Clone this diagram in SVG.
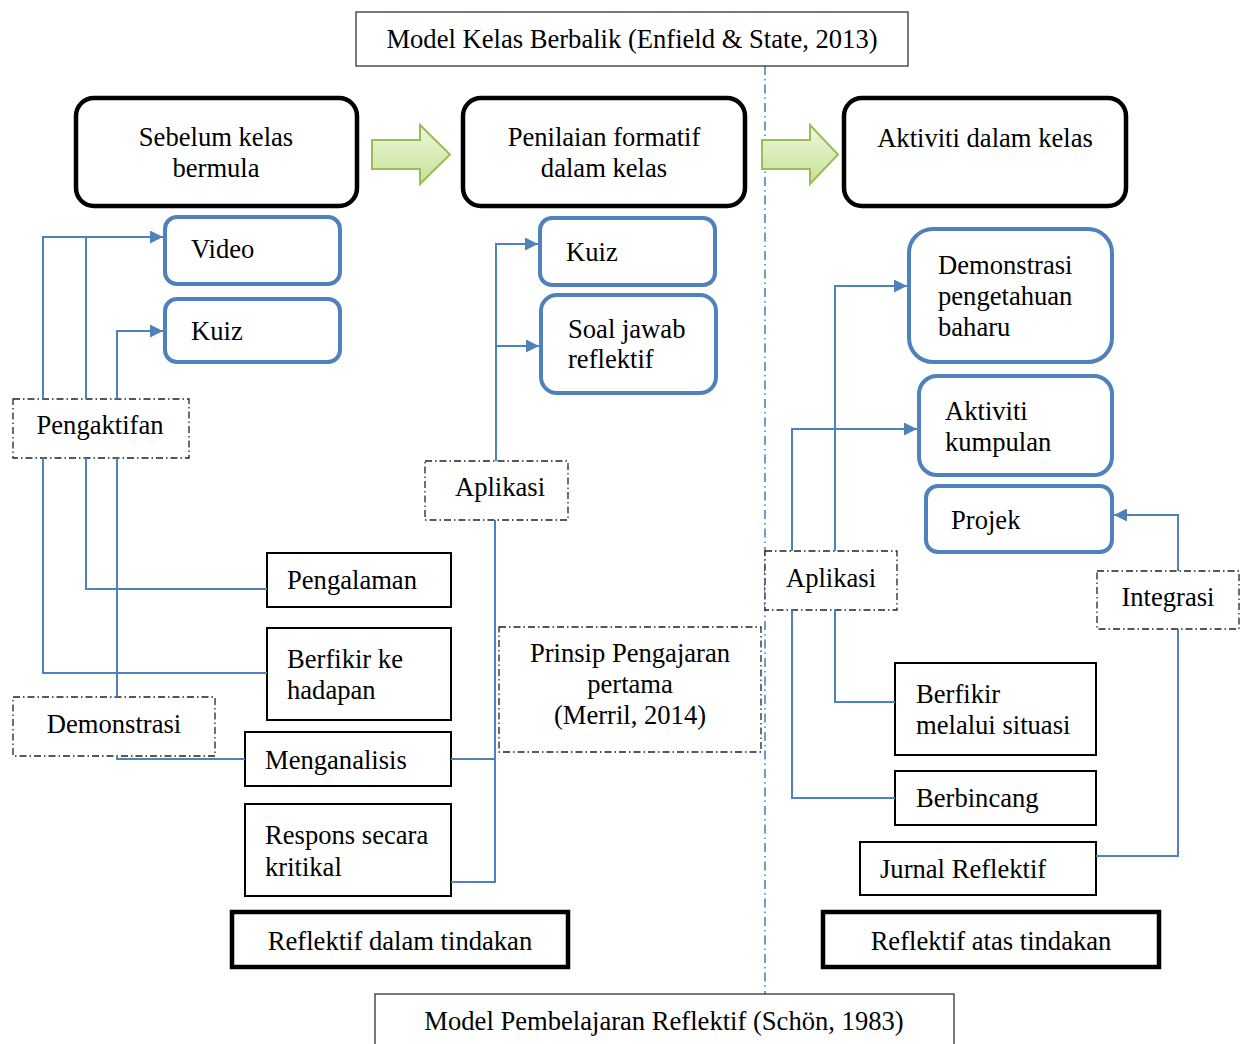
<svg xmlns="http://www.w3.org/2000/svg" width="1248" height="1044" viewBox="0 0 1248 1044">
<style>
text{font-family:"Liberation Serif","Times New Roman",serif;font-size:26.6px;fill:#000}
.c{text-anchor:middle}
.big{fill:#fff;stroke:#000;stroke-width:4.5}
.blue{fill:#fff;stroke:#4f81bd;stroke-width:4}
.box{fill:#fff;stroke:#000;stroke-width:2}
.thick{fill:#fff;stroke:#000;stroke-width:4.5}
.dd{fill:#fff;stroke:#222;stroke-width:1.3;stroke-dasharray:7 3 1.5 3}
.plain{fill:#fff;stroke:#333;stroke-width:1.3}
.con{fill:none;stroke:#4f81bd;stroke-width:2}
.ga{fill:url(#gg);stroke:#9bbb59;stroke-width:2}
</style>
<defs>
<linearGradient id="gg" x1="0" y1="0" x2="0" y2="1">
<stop offset="0" stop-color="#eef8dd"/>
<stop offset="1" stop-color="#c5e195"/>
</linearGradient>
<marker id="ar" viewBox="0 0 10 10" refX="10" refY="5" markerWidth="14" markerHeight="13" markerUnits="userSpaceOnUse" orient="auto">
<path d="M0,0 L10,5 L0,10 Z" fill="#4f81bd"/>
</marker>
</defs>
<rect width="1248" height="1044" fill="#fff"/>

<line x1="765" y1="66" x2="765" y2="994" stroke="#4f81bd" stroke-width="1.6" stroke-dasharray="9 4 1.5 4"/>

<g id="title-top"><rect class="plain" x="356" y="12" width="552" height="54"/><text class="c" x="632" y="48">Model Kelas Berbalik (Enfield &amp; State, 2013)</text></g>
<g id="title-bottom"><rect class="plain" x="375" y="994" width="579" height="60"/><text class="c" x="664" y="1030">Model Pembelajaran Reflektif (Schön, 1983)</text></g>

<g id="sebelum"><rect class="big" x="76" y="98" width="281" height="108" rx="18"/><text class="c" x="216" y="146">Sebelum kelas</text><text class="c" x="216" y="177">bermula</text></g>
<g id="penilaian"><rect class="big" x="463" y="98" width="282" height="108" rx="18"/><text class="c" x="604" y="146">Penilaian formatif</text><text class="c" x="604" y="177">dalam kelas</text></g>
<g id="aktiviti-kelas"><rect class="big" x="844" y="98" width="282" height="108" rx="18"/><text class="c" x="985" y="147">Aktiviti dalam kelas</text></g>

<g id="arrow1"><polygon class="ga" points="372,140 420,140 420,125 450,154.5 420,184 420,169 372,169"/></g>
<g id="arrow2"><polygon class="ga" points="762,140 810,140 810,125 838,154.5 810,184 810,169 762,169"/></g>

<g id="video"><rect class="blue" x="165" y="217" width="175" height="67" rx="12"/><text x="191" y="258">Video</text></g>
<g id="kuiz1"><rect class="blue" x="165" y="299" width="175" height="63" rx="12"/><text x="191" y="340">Kuiz</text></g>
<g id="kuiz2"><rect class="blue" x="540" y="218" width="175" height="67" rx="12"/><text x="566" y="261">Kuiz</text></g>
<g id="soal"><rect class="blue" x="541" y="295" width="175" height="98" rx="16"/><text x="568" y="338">Soal jawab</text><text x="568" y="368">reflektif</text></g>
<g id="demo-baharu"><rect class="blue" x="909" y="229" width="203" height="133" rx="24"/><text x="938" y="274">Demonstrasi</text><text x="938" y="305">pengetahuan</text><text x="938" y="336">baharu</text></g>
<g id="aktiviti-kumpulan"><rect class="blue" x="919" y="376" width="193" height="99" rx="18"/><text x="945" y="420">Aktiviti</text><text x="945" y="451">kumpulan</text></g>
<g id="projek"><rect class="blue" x="926" y="486" width="186" height="66" rx="12"/><text x="951" y="529">Projek</text></g>

<g id="pengaktifan"><rect class="dd" x="13" y="399" width="176" height="59"/><text class="c" x="100" y="434">Pengaktifan</text></g>
<g id="demonstrasi"><rect class="dd" x="13" y="697" width="202" height="59"/><text class="c" x="114" y="733">Demonstrasi</text></g>
<g id="aplikasi1"><rect class="dd" x="425" y="461" width="143" height="59"/><text class="c" x="500" y="496">Aplikasi</text></g>
<g id="prinsip"><rect class="dd" x="499" y="627" width="262" height="125"/><text class="c" x="630" y="662">Prinsip Pengajaran</text><text class="c" x="630" y="693">pertama</text><text class="c" x="630" y="724">(Merril, 2014)</text></g>
<g id="aplikasi2"><rect class="dd" x="765" y="551" width="132" height="59"/><text class="c" x="831" y="587">Aplikasi</text></g>
<g id="integrasi"><rect class="dd" x="1097" y="571" width="142" height="58"/><text class="c" x="1168" y="606">Integrasi</text></g>

<g id="pengalaman"><rect class="box" x="267" y="553" width="184" height="54"/><text x="287" y="589">Pengalaman</text></g>
<g id="berfikir-hadapan"><rect class="box" x="267" y="628" width="184" height="92"/><text x="287" y="668">Berfikir ke</text><text x="287" y="699">hadapan</text></g>
<g id="menganalisis"><rect class="box" x="245" y="732" width="206" height="54"/><text x="265" y="769">Menganalisis</text></g>
<g id="respons"><rect class="box" x="245" y="804" width="206" height="92"/><text x="265" y="844">Respons secara</text><text x="265" y="876">kritikal</text></g>
<g id="berfikir-situasi"><rect class="box" x="895" y="663" width="201" height="92"/><text x="916" y="703">Berfikir</text><text x="916" y="734">melalui situasi</text></g>
<g id="berbincang"><rect class="box" x="895" y="771" width="201" height="54"/><text x="916" y="807">Berbincang</text></g>
<g id="jurnal"><rect class="box" x="860" y="842" width="236" height="53"/><text x="880" y="878">Jurnal Reflektif</text></g>

<g id="reflektif-dalam"><rect class="thick" x="232" y="912" width="336" height="55"/><text class="c" x="400" y="950">Reflektif dalam tindakan</text></g>
<g id="reflektif-atas"><rect class="thick" x="823" y="912" width="336" height="55"/><text class="c" x="991" y="950">Reflektif atas tindakan</text></g>

<g id="connectors">
<path class="con" d="M43,399 V237 H163" marker-end="url(#ar)"/>
<path class="con" d="M86,399 V237"/>
<path class="con" d="M117,399 V331 H163" marker-end="url(#ar)"/>
<path class="con" d="M43,458 V673 H267"/>
<path class="con" d="M86,458 V589 H267"/>
<path class="con" d="M117,458 V697"/>
<path class="con" d="M117,756 V759 H245"/>
<path class="con" d="M496,461 V244 H538" marker-end="url(#ar)"/>
<path class="con" d="M496,346 H539" marker-end="url(#ar)"/>
<path class="con" d="M495,520 V882 H451"/>
<path class="con" d="M451,759 H495"/>
<path class="con" d="M835,551 V286 H907" marker-end="url(#ar)"/>
<path class="con" d="M792,551 V429 H917" marker-end="url(#ar)"/>
<path class="con" d="M1178,571 V515 H1114" marker-end="url(#ar)"/>
<path class="con" d="M835,610 V702 H895"/>
<path class="con" d="M792,610 V798 H895"/>
<path class="con" d="M1178,629 V856 H1096"/>
</g>
</svg>
